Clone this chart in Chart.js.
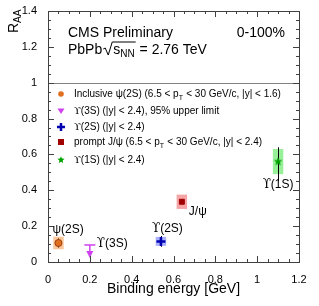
<!DOCTYPE html>
<html>
<head>
<meta charset="utf-8">
<script src="https://cdn.jsdelivr.net/npm/chart.js@4.4.1/dist/chart.umd.min.js"></script>
<style>
  html, body { margin: 0; padding: 0; background: #fff; }
</style>
</head>
<body>
<canvas id="myChart" width="319" height="306"></canvas>
<script>
// values
const states = ['ψ(2S)', 'ϒ(3S)', 'ϒ(2S)', 'J/ψ', 'ϒ(1S)'];
const bindingEnergy = [0.05, 0.20, 0.54, 0.64, 1.10];
const raa = [0.106, 0.095, 0.115, 0.336, 0.56]; // ϒ(3S) is the 95% upper limit
const statLow = [0.025, 0, 0.03, 0.012, 0.11];
const statHigh = [0.025, 0, 0.03, 0.012, 0.08];
const systErr = [0.035, 0, 0.025, 0.04, 0.07];
const upperLimit = [false, true, false, false, false];
const yTicks = [0, 0.2, 0.4, 0.6, 0.8, 1, 1.2, 1.4];
const xTicks = [0, 0.2, 0.4, 0.6, 0.8, 1, 1.2];
const legendLabels = [
  ['Inclusive ψ(2S) (6.5 < p', 'T', ' < 30 GeV/c, |y| < 1.6)'],
  ['ϒ(3S) (|y| < 2.4), 95% upper limit'],
  ['ϒ(2S) (|y| < 2.4)'],
  ['prompt J/ψ (6.5 < p', 'T', ' < 30 GeV/c, |y| < 2.4)'],
  ['ϒ(1S) (|y| < 2.4)']
];

const FONT = "'Liberation Sans', Arial, Helvetica, sans-serif";
const SERIF = "'DejaVu Serif', 'Liberation Serif', serif";
const markerColors = ['#e07020', '#d040f0', '#0000b0', '#a00000', '#00a000'];
const boxColors = ['#f9c79a', null, '#a8b0ff', '#f5a5a5', '#98f098'];
const legendRowsY = [94, 111, 127, 142, 160];
const labelOffsets = [[-6, -14, 'left'], [7, -2, 'left'], [-9, -13, 'left'], [7, 9, 'left'], [0, 22, 'center']];

// filled star marker for the 1S point
const makeStar = (size, r1, r2) => {
  const c = document.createElement('canvas');
  c.width = c.height = size;
  const sc = c.getContext('2d');
  sc.fillStyle = markerColors[4];
  sc.beginPath();
  for (let i = 0; i < 10; i++) {
    const r = i % 2 ? r2 : r1;
    const a = -Math.PI / 2 + i * Math.PI / 5;
    sc.lineTo(size / 2 + r * Math.cos(a), size / 2 + r * Math.sin(a));
  }
  sc.closePath();
  sc.fill();
  return c;
};
const starImg = makeStar(10, 4.6, 2);
const starSmall = makeStar(8, 3.8, 1.7);

const pointStyles = ['circle', 'line', 'cross', 'rect', starImg];

const datasets = states.map((s, i) => ({
  label: s,
  data: [{ x: bindingEnergy[i], y: raa[i] }],
  pointStyle: pointStyles[i],
  pointRadius: [3.5, 5.5, 4.5, 3.5, 5][i],
  pointBorderWidth: [1, 1.5, 2.5, 1, 1][i],
  pointBackgroundColor: markerColors[i],
  pointBorderColor: i === 0 ? '#a04010' : markerColors[i],
  showLine: false
}));

// draws text, switching to a serif face for the Upsilon glyph
const textWidth = (ctx, text, size) => {
  let w = 0;
  for (const ch of text) {
    ctx.font = size + 'px ' + (ch === 'ϒ' ? SERIF : FONT);
    w += ctx.measureText(ch).width;
  }
  return w;
};
const fillMixed = (ctx, text, x, y, size, align) => {
  let cx = align === 'center' ? x - textWidth(ctx, text, size) / 2 : x;
  ctx.textAlign = 'left';
  let run = '';
  const flush = () => {
    if (!run) return;
    ctx.font = size + 'px ' + FONT;
    ctx.fillText(run, cx, y);
    cx += ctx.measureText(run).width;
    run = '';
  };
  for (const ch of text) {
    if (ch === 'ϒ') {
      flush();
      ctx.font = size + 'px ' + SERIF;
      ctx.fillText(ch, cx, y);
      cx += ctx.measureText(ch).width;
    } else {
      run += ch;
    }
  }
  flush();
  return cx;
};

const drawMarker = (ctx, i, x, y) => {
  ctx.save();
  ctx.fillStyle = markerColors[i];
  ctx.strokeStyle = markerColors[i];
  if (i === 0) {
    ctx.beginPath(); ctx.arc(x, y, 2.8, 0, Math.PI * 2); ctx.fill();
  } else if (i === 1) {
    ctx.beginPath(); ctx.moveTo(x - 3.5, y - 2.5); ctx.lineTo(x + 3.5, y - 2.5); ctx.lineTo(x, y + 3); ctx.closePath(); ctx.fill();
  } else if (i === 2) {
    ctx.lineWidth = 2.5;
    ctx.beginPath(); ctx.moveTo(x - 4, y); ctx.lineTo(x + 4, y); ctx.moveTo(x, y - 4); ctx.lineTo(x, y + 4); ctx.stroke();
  } else if (i === 3) {
    ctx.fillRect(x - 3, y - 3, 6, 6);
  } else {
    ctx.drawImage(starSmall, x - 4, y - 4);
  }
  ctx.restore();
};

const cmsDecor = {
  id: 'cmsDecor',
  beforeDatasetsDraw(chart) {
    const { ctx, chartArea: a, scales: { x, y } } = chart;
    ctx.save();
    // line at R_AA = 1
    ctx.strokeStyle = '#808080';
    ctx.lineWidth = 1;
    ctx.beginPath();
    ctx.moveTo(a.left, Math.round(y.getPixelForValue(1)) + 0.5);
    ctx.lineTo(a.right, Math.round(y.getPixelForValue(1)) + 0.5);
    ctx.stroke();
    // systematic boxes
    bindingEnergy.forEach((e, i) => {
      if (!boxColors[i]) return;
      const x0 = x.getPixelForValue(e - 0.025), x1 = x.getPixelForValue(e + 0.025);
      const y0 = y.getPixelForValue(raa[i] + systErr[i]), y1 = y.getPixelForValue(raa[i] - systErr[i]);
      ctx.fillStyle = boxColors[i];
      ctx.fillRect(x0, y0, x1 - x0, y1 - y0);
    });
    // statistical error bars
    ctx.strokeStyle = '#000';
    ctx.lineWidth = 1;
    bindingEnergy.forEach((e, i) => {
      if (upperLimit[i]) return;
      const px = Math.round(x.getPixelForValue(e)) + 0.5;
      ctx.beginPath();
      ctx.moveTo(px, y.getPixelForValue(raa[i] + statHigh[i]));
      ctx.lineTo(px, y.getPixelForValue(raa[i] - statLow[i]));
      ctx.stroke();
    });
    // upper limit arrow
    bindingEnergy.forEach((e, i) => {
      if (!upperLimit[i]) return;
      const px = x.getPixelForValue(e), py = y.getPixelForValue(raa[i]);
      ctx.strokeStyle = markerColors[i];
      ctx.fillStyle = markerColors[i];
      ctx.lineWidth = 1.5;
      ctx.beginPath(); ctx.moveTo(px, py); ctx.lineTo(px, py + 8); ctx.stroke();
      ctx.beginPath(); ctx.moveTo(px - 3.5, py + 6); ctx.lineTo(px + 3.5, py + 6); ctx.lineTo(px, py + 13); ctx.closePath(); ctx.fill();
    });
    ctx.restore();
  },
  afterDraw(chart) {
    const { ctx, chartArea: a, scales: { x, y } } = chart;
    ctx.save();
    // frame
    ctx.strokeStyle = '#404040';
    ctx.lineWidth = 1;
    ctx.strokeRect(a.left + 0.5, a.top + 0.5, a.right - a.left, a.bottom - a.top);
    // inward ticks on all sides
    ctx.beginPath();
    for (let k = 0; k <= 28; k++) {
      const v = k * 0.05, len = k % 4 === 0 ? 6 : 3;
      const py = Math.round(y.getPixelForValue(v)) + 0.5;
      ctx.moveTo(a.left, py); ctx.lineTo(a.left + len, py);
      ctx.moveTo(a.right, py); ctx.lineTo(a.right - len, py);
    }
    for (let k = 0; k <= 24; k++) {
      const v = k * 0.05, len = k % 4 === 0 ? 6 : 3;
      const px = Math.round(x.getPixelForValue(v)) + 0.5;
      ctx.moveTo(px, a.bottom); ctx.lineTo(px, a.bottom - len);
      ctx.moveTo(px, a.top); ctx.lineTo(px, a.top + len);
    }
    ctx.stroke();

    ctx.fillStyle = '#000';
    ctx.textBaseline = 'alphabetic';
    // R_AA axis title
    ctx.save();
    ctx.translate(18, 33);
    ctx.rotate(-Math.PI / 2);
    ctx.font = '14px ' + FONT;
    ctx.fillText('R', 0, 0);
    const rw = ctx.measureText('R').width;
    ctx.font = '10px ' + FONT;
    ctx.fillText('AA', rw, 3);
    ctx.restore();

    // header texts
    ctx.font = '14px ' + FONT;
    ctx.fillText('CMS Preliminary', 68, 37);
    ctx.textAlign = 'right';
    ctx.fillText('0-100%', 285, 37);
    ctx.textAlign = 'left';
    let tx = 68;
    const base = 54;
    ctx.fillText('PbPb', tx, base);
    tx += ctx.measureText('PbPb').width + 1;
    // sqrt sign
    ctx.lineWidth = 1;
    ctx.strokeStyle = '#000';
    ctx.beginPath();
    ctx.moveTo(tx, base - 5);
    ctx.lineTo(tx + 2, base - 6);
    ctx.lineTo(tx + 5, base + 1);
    ctx.lineTo(tx + 9, base - 12);
    tx += 10;
    ctx.fillText('s', tx, base);
    tx += ctx.measureText('s').width;
    ctx.font = '10px ' + FONT;
    ctx.fillText('NN', tx, base + 3);
    tx += ctx.measureText('NN').width + 1;
    ctx.lineTo(tx, base - 12);
    ctx.stroke();
    ctx.font = '14px ' + FONT;
    ctx.fillText(' = 2.76 TeV', tx, base);

    // legend
    ctx.textBaseline = 'middle';
    legendLabels.forEach((parts, i) => {
      const ly = legendRowsY[i];
      drawMarker(ctx, i, 61, ly);
      let lx = 74;
      parts.forEach((part, j) => {
        const sub = j === 1;
        lx = fillMixed(ctx, part, lx, ly + (sub ? 4 : 0), sub ? 7 : 10, 'left') + (sub ? 0.5 : 0);
      });
    });

    // labels next to the points
    ctx.textBaseline = 'alphabetic';
    states.forEach((s, i) => {
      const [dx, dy, al] = labelOffsets[i];
      fillMixed(ctx, s, x.getPixelForValue(bindingEnergy[i]) + dx, y.getPixelForValue(raa[i]) + dy + 4, 12, al);
    });
    ctx.restore();
  }
};

new Chart(document.getElementById('myChart'), {
  type: 'scatter',
  data: { datasets },
  options: {
    responsive: false,
    animation: false,
    events: [],
    layout: { padding: { top: 11, right: 20, left: 0, bottom: 0 } },
    plugins: { legend: { display: false }, tooltip: { enabled: false } },
    scales: {
      x: {
        type: 'linear',
        min: 0,
        max: 1.2,
        afterFit: s => { s.height = 44; },
        afterBuildTicks: s => { s.ticks = xTicks.map(v => ({ value: v })); },
        grid: { display: false },
        border: { display: false },
        ticks: {
          padding: 3,
          color: '#000',
          font: { family: FONT, size: 11 },
          callback: v => String(Math.round(v * 10) / 10)
        },
        title: {
          display: true,
          text: 'Binding energy [GeV]',
          color: '#000',
          font: { family: FONT, size: 14 },
          padding: { top: 0, bottom: 8 }
        }
      },
      y: {
        type: 'linear',
        min: 0,
        max: 1.4,
        afterFit: s => { s.width = 48; },
        afterBuildTicks: s => { s.ticks = yTicks.map(v => ({ value: v })); },
        grid: { display: false },
        border: { display: false },
        ticks: {
          padding: 3,
          color: '#000',
          font: { family: FONT, size: 11 },
          callback: v => String(Math.round(v * 10) / 10)
        }
      }
    }
  },
  plugins: [cmsDecor]
});
</script>
</body>
</html>
